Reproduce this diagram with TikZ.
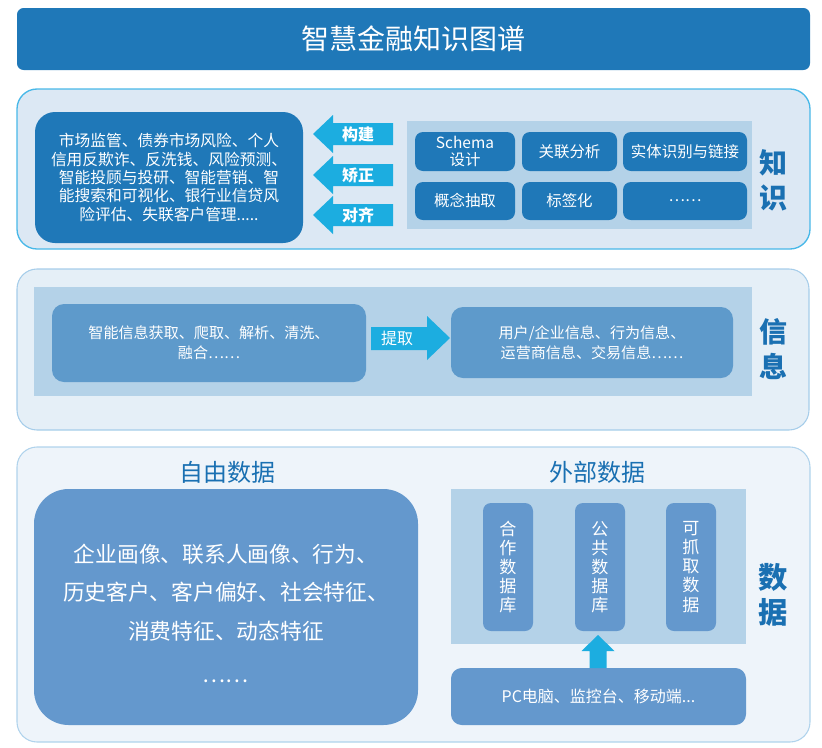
\documentclass[tikz,border=0pt]{standalone}
\usepackage{fontspec}
\setmainfont{Noto Sans CJK SC}
\usepackage{xcolor}
\usepackage{tikz}
\usetikzlibrary{
	calc,
	positioning
}

\definecolor{titleblue}{HTML}{1F78B8}
\definecolor{labelblue}{HTML}{1A70B2}
\definecolor{arrowcyan}{HTML}{1CADE0}
\definecolor{midblueA}{HTML}{5E9ACB}
\definecolor{midblueB}{HTML}{6498CD}
\definecolor{panelblue}{HTML}{B4D2E8}
\definecolor{bgone}{HTML}{DCE8F4}
\definecolor{lineone}{HTML}{48B8E8}
\definecolor{bgtwo}{HTML}{E5EFF7}
\definecolor{linetwo}{HTML}{A6CDEA}
\definecolor{bgthree}{HTML}{EEF4FA}
\definecolor{linethree}{HTML}{B0D3EC}

\begin{document}
\begin{tikzpicture}[x=0.75pt,y=-0.75pt,
	titlebar/.style={fill=titleblue,rounded corners=5pt,text=white,font=\fontsize{21}{25}\selectfont},
	darkbox/.style={fill=titleblue,text=white,align=center},
	midbox/.style={fill=midblueA,text=white,align=center},
	databox/.style={fill=midblueB,text=white,align=center},
	arrtxt/.style={text=white,inner sep=0pt},
	sidelabel/.style={text=labelblue,font=\fontsize{21}{26}\selectfont\bfseries,align=center},
	parttitle/.style={text=labelblue,font=\fontsize{18}{22}\selectfont}]
	\useasboundingbox (0,0) rectangle (822,747);
	
	% 标题
	\node[titlebar,minimum width=594.75pt,minimum height=46.5pt] (title) at (413.5,39) {智慧金融知识图谱};
	
	% 三个分区的底框
	\draw[fill=bgone,draw=lineone,line width=1pt,rounded corners=15pt] (17,89) rectangle (810,249);
	\draw[fill=bgtwo,draw=linetwo,line width=0.8pt,rounded corners=15pt] (17,269) rectangle (809,430);
	\draw[fill=bgthree,draw=linethree,line width=0.8pt,rounded corners=15pt] (17,447) rectangle (810,742);
	
	% ---------- 知识 ----------
	\node[darkbox,rounded corners=15pt,minimum width=201pt,minimum height=98.25pt,
		font=\fontsize{11.8}{13.8}\selectfont] (apps) at (169,177.5)
		{市场监管、债券市场风险、个人\\信用反欺诈、反洗钱、风险预测、\\智能投顾与投研、智能营销、智\\能搜索和可视化、银行业信贷风\\险评估、失联客户管理.....};
	
	% 向左的箭头
	\foreach \y/\t/\n in {134/构建/gj,175/矫正/jz,215/对齐/dq}{
		\fill[arrowcyan] (313,\y) -- (333,\y-19) -- (333,\y-11) -- (393,\y-11)
			-- (393,\y+11) -- (333,\y+11) -- (333,\y+19) -- cycle;
		\node[arrtxt,font=\fontsize{12}{14}\selectfont\bfseries] (\n) at (358,\y) {\t};
	}
	
	% 知识构建方法
	\fill[panelblue] (407,121) rectangle (752,229);
	\foreach \n/\cx/\cy/\w/\h/\t in {
		k1/465/151.5/75/29.25/{Schema\\设计},
		k2/569.5/151.5/71.25/29.25/关联分析,
		k3/685/151.5/93/29.25/实体识别与链接,
		k4/465/201/75/28.5/概念抽取,
		k5/569.5/201/71.25/28.5/标签化,
		k6/685/201/93/28.5/……}
	\node[darkbox,rounded corners=6pt,minimum width=\w pt,minimum height=\h pt,inner sep=1pt,
		font=\fontsize{11.6}{12.5}\selectfont] (\n) at (\cx,\cy) {\t};
	
	\node[sidelabel,font=\fontsize{21}{26.25}\selectfont\bfseries] (zs) at (773,180.5) {知\\识};
	
	% ---------- 信息 ----------
	\fill[panelblue] (34,287) rectangle (752,396);
	\node[midbox,rounded corners=9pt,minimum width=235.5pt,minimum height=58.5pt,
		font=\fontsize{11.3}{15}\selectfont] (getinfo) at (209,343)
		{智能信息获取、爬取、解析、清洗、\\融合……};
	\node[midbox,rounded corners=9pt,minimum width=211.5pt,minimum height=53.25pt,
		font=\fontsize{11.3}{15}\selectfont] (infos) at (592,342.5)
		{用户/企业信息、行为信息、\\运营商信息、交易信息……};
	\fill[arrowcyan] (371,327) -- (427,327) -- (427,316) -- (450,338)
		-- (427,360) -- (427,350) -- (371,350) -- cycle;
	\node[arrtxt,font=\fontsize{12}{14}\selectfont] (tq) at (397,338.5) {提取};
	\node[sidelabel] (xx) at (773,349) {信\\息};
	
	% ---------- 数据 ----------
	\node[parttitle] (freet) at (227,472) {自由数据};
	\node[parttitle] (outt) at (597,472) {外部数据};
	
	\node[databox,rounded corners=26pt,minimum width=288pt,minimum height=177pt] (freedata) at (226,607) {};
	\node[text=white,align=center,font=\fontsize{16.3}{29}\selectfont] (freetxt) at (226,613)
		{企业画像、联系人画像、行为、\\历史客户、客户偏好、社会特征、\\消费特征、动态特征\\[3pt]……};
	
	\fill[panelblue] (451,489) rectangle (746,644);
	\foreach \n/\cx/\t in {hz/508/{合\\作\\数\\据\\库},gg/600/{公\\共\\数\\据\\库},kz/691/{可\\抓\\取\\数\\据}}
	\node[databox,rounded corners=6pt,minimum width=37.5pt,minimum height=96pt,
		font=\fontsize{12.8}{14.3}\selectfont] (\n) at (\cx,567) {\t};
	
	\node[databox,rounded corners=8pt,minimum width=221.25pt,minimum height=42.75pt,
		font=\fontsize{12}{14}\selectfont] (device) at (598.5,696.5) {PC电脑、监控台、移动端...};
	
	% 向上的箭头
	\fill[arrowcyan] (598,635) -- (614.5,651) -- (606.5,651) -- (606.5,668)
		-- (589.5,668) -- (589.5,651) -- (581.5,651) -- cycle;
	
	\node[sidelabel,font=\fontsize{22}{26.25}\selectfont\bfseries] (sj) at (773,594.5) {数\\据};
\end{tikzpicture}
\end{document}
